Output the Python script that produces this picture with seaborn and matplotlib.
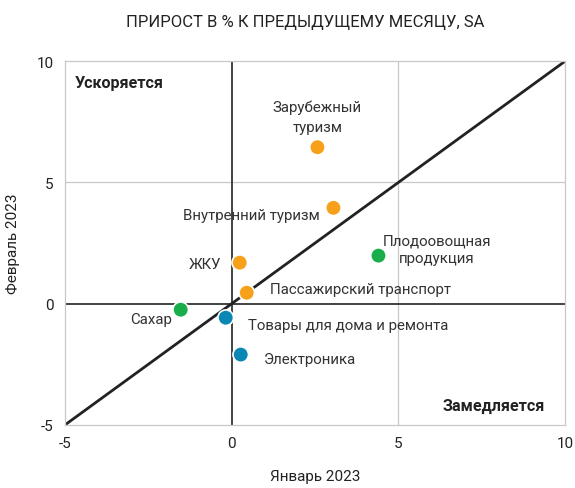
import matplotlib
matplotlib.use("Agg")
import matplotlib.pyplot as plt
import seaborn as sns
import pandas as pd

# данные: прирост в % к предыдущему месяцу, SA
names = ["Зарубежный туризм", "Внутренний туризм", "Плодоовощная продукция", "ЖКУ",
         "Пассажирский транспорт", "Сахар", "Товары для дома и ремонта", "Электроника"]
jan = [2.57, 3.05, 4.40, 0.24, 0.45, -1.53, -0.18, 0.27]
feb = [6.45, 3.95, 1.98, 1.69, 0.45, -0.25, -0.58, -2.10]
group = ["услуги", "услуги", "продовольствие", "услуги",
         "услуги", "продовольствие", "непродовольствие", "непродовольствие"]
colors = {"услуги": "#F7A11A", "продовольствие": "#19AE4B", "непродовольствие": "#0B87B5"}

df = pd.DataFrame({"name": names, "jan": jan, "feb": feb, "group": group})

sns.set_style("white")
plt.rcParams["font.family"] = ["Roboto", "DejaVu Sans"]
plt.rcParams["axes.unicode_minus"] = False

fig = plt.figure(figsize=(5.75, 4.89), dpi=100)
ax = fig.add_axes([0.113, 0.129, 0.870, 0.744])

ax.set_xlim(-5, 10)
ax.set_ylim(-5, 10)
ax.set_xticks([-5, 0, 5, 10])
ax.set_yticks([-5, 0, 5, 10])

ax.axvline(5, color="#c8c8c8", lw=0.9, zorder=0)
ax.axhline(5, color="#c8c8c8", lw=0.9, zorder=0)
ax.axvline(0, color="#222222", lw=1.2, zorder=1)
ax.axhline(0, color="#222222", lw=1.2, zorder=1)
ax.plot([-5, 10], [-5, 10], color="#222222", lw=2.0, zorder=2)

sns.scatterplot(data=df, x="jan", y="feb", hue="group", palette=colors,
                s=125, edgecolor="white", linewidth=1.2, legend=False, zorder=3, ax=ax)

for sp in ax.spines.values():
    sp.set_color("#c8c8c8")
    sp.set_linewidth(0.9)
ax.tick_params(length=0, labelsize=11, colors="#222222", pad=8)

ax.set_xlabel("Январь 2023", fontsize=11, color="#222222", labelpad=14)
ax.set_ylabel("Февраль 2023", fontsize=11, color="#222222", labelpad=12)
fig.text(0.53, 0.955, "ПРИРОСТ В % К ПРЕДЫДУЩЕМУ МЕСЯЦУ, SA", ha="center", va="center",
         fontsize=12, color="#222222")

tc = "#333333"
fs = 10.8
ax.text(2.57, 7.7, "Зарубежный\nтуризм", ha="center", va="center", fontsize=fs, color=tc, linespacing=1.5)
ax.text(2.65, 3.65, "Внутренний туризм", ha="right", va="center", fontsize=fs, color=tc)
ax.text(6.15, 2.25, "Плодоовощная\nпродукция", ha="center", va="center", fontsize=fs, color=tc, linespacing=1.3)
ax.text(-0.3, 1.65, "ЖКУ", ha="right", va="center", fontsize=fs, color=tc)
ax.text(1.15, 0.6, "Пассажирский транспорт", ha="left", va="center", fontsize=fs, color=tc)
ax.text(-1.8, -0.62, "Сахар", ha="right", va="center", fontsize=fs, color=tc)
ax.text(0.5, -0.86, "Товары для дома и ремонта", ha="left", va="center", fontsize=fs, color=tc)
ax.text(0.95, -2.3, "Электроника", ha="left", va="center", fontsize=fs, color=tc)

ax.text(-4.7, 9.1, "Ускоряется", ha="left", va="center", fontsize=11.6, fontweight="bold", color="#222222")
ax.text(9.4, -4.2, "Замедляется", ha="right", va="center", fontsize=11.6, fontweight="bold", color="#222222")

fig.savefig("out.png", dpi=100)
